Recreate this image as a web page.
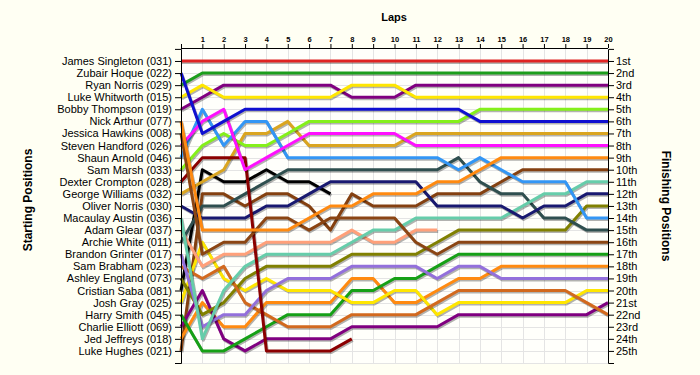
<!DOCTYPE html>
<html>
<head>
<meta charset="utf-8">
<script src="https://cdn.jsdelivr.net/npm/d3@7"></script>
<style>
  body { margin: 0; background: #fffff3; }
  svg text { font-family: "Liberation Sans", Arial, sans-serif; fill: #000; }
  .lap-axis text { font-size: 7.5px; font-weight: bold; }
  .pos-axis text { font-size: 11px; }
  .axis-title { font-size: 12px; font-weight: bold; }
</style>
</head>
<body>
<div id="chart"></div>
<script>
const lapCount = 20;

const drivers = [
  "James Singleton (031)", "Zubair Hoque (022)", "Ryan Norris (029)",
  "Luke Whitworth (015)", "Bobby Thompson (019)", "Nick Arthur (077)",
  "Jessica Hawkins (008)", "Steven Handford (026)", "Shaun Arnold (046)",
  "Sam Marsh (033)", "Dexter Crompton (028)", "George Williams (032)",
  "Oliver Norris (030)", "Macaulay Austin (036)", "Adam Glear (037)",
  "Archie White (011)", "Brandon Grinter (017)", "Sam Brabham (023)",
  "Ashley England (073)", "Cristian Saba (081)", "Josh Gray (025)",
  "Harry Smith (045)", "Charlie Elliott (069)", "Jed Jeffreys (018)",
  "Luke Hughes (021)",
];

const finishLabels = [
  "1st", "2nd", "3rd", "4th", "5th", "6th", "7th", "8th", "9th", "10th",
  "11th", "12th", "13th", "14th", "15th", "16th", "17th", "18th", "19th",
  "20th", "21st", "22nd", "23rd", "24th", "25th",
];

// position of each driver at lap 0, 1, 2 ... (shorter list = retired)
const positions = [
  [1, 1, 1, 1, 1, 1, 1, 1, 1, 1, 1, 1, 1, 1, 1, 1, 1, 1, 1, 1, 1],
  [2, 7, 6, 5, 5, 5, 5, 5, 5, 5, 5, 5, 5, 5, 6, 6, 6, 6, 6, 6, 6],
  [3, 2, 2, 2, 2, 2, 2, 2, 2, 2, 2, 2, 2, 2, 2, 2, 2, 2, 2, 2, 2],
  [4, 3, 4, 4, 4, 4, 4, 4, 3, 3, 3, 4, 4, 4, 4, 4, 4, 4, 4, 4, 4],
  [5, 4, 3, 3, 3, 3, 3, 3, 4, 4, 4, 3, 3, 3, 3, 3, 3, 3, 3, 3, 3],
  [6, 15, 15, 15, 15, 15, 14, 13, 13, 12, 12, 12, 11, 11, 10, 9, 9, 9, 9, 9, 9],
  [7, 17, 16, 16, 14, 14, 15, 14, 14, 14, 14, 16, 17, 16, 16, 16, 16, 16, 16, 16, 16],
  [8, 6, 5, 10, 9, 8, 7, 7, 7, 7, 7, 8, 8, 8, 8, 8, 8, 8, 8, 8, 8],
  [9, 5, 8, 6, 6, 9, 9, 9, 9, 9, 9, 9, 9, 10, 9, 10, 11, 11, 11, 14, 14],
  [10, 8, 7, 8, 8, 7, 6, 6, 6, 6, 6, 6, 6, 6, 5, 5, 5, 5, 5, 5, 5],
  [11, 9, 9, 9, 25, 25, 25, 25, 24],
  [12, 11, 10, 7, 7, 6, 8, 8, 8, 8, 8, 7, 7, 7, 7, 7, 7, 7, 7, 7, 7],
  [13, 14, 14, 14, 13, 13, 12, 11, 11, 11, 11, 11, 13, 13, 13, 13, 14, 13, 13, 12, 12],
  [14, 24, 20, 18, 17, 17, 17, 17, 16, 15, 15, 14, 14, 14, 14, 14, 13, 12, 12, 11, 11],
  [15, 18, 17, 17, 16, 16, 16, 16, 15, 16, 16, 15, 15],
  [16, 13, 13, 12, 11, 10, 10, 10, 10, 10, 10, 10, 10, 9, 11, 12, 12, 14, 14, 15, 15],
  [17, 23, 22, 22, 20, 19, 19, 19, 18, 18, 18, 18, 19, 18, 18, 19, 19, 19, 19, 19, 19],
  [18, 19, 18, 21, 22, 23, 23, 23, 22, 22, 22, 22, 21, 20, 20, 20, 20, 20, 20, 21, 22],
  [19, 22, 21, 19, 18, 18, 18, 18, 17, 17, 17, 17, 16, 15, 15, 15, 15, 15, 15, 13, 13],
  [20, 10, 11, 11, 10, 11, 11, 12],
  [21, 16, 19, 20, 19, 20, 20, 20, 21, 21, 20, 20, 22, 21, 21, 21, 21, 21, 21, 20, 20],
  [22, 25, 25, 24, 23, 22, 22, 22, 20, 20, 19, 19, 18, 17, 17, 17, 17, 17, 17, 17, 17],
  [23, 20, 24, 25, 24, 24, 24, 24, 23, 23, 23, 23, 23, 22, 22, 22, 22, 22, 22, 22, 21],
  [24, 21, 23, 23, 21, 21, 21, 21, 19, 19, 21, 21, 20, 19, 19, 18, 18, 18, 18, 18, 18],
  [25, 12, 12, 13, 12, 12, 13, 15, 12, 13, 13, 13, 12, 12, 12, 11, 10, 10, 10, 10, 10],
];

const lineColors = [
  "#e02424", "#1010d0", "#1c9e1c", "#ffe600", "#800080", "#ff8a10",
  "#8b4513", "#ff10ff", "#3396f5", "#84f01a", "#8b0000", "#daa520",
  "#191970", "#66cdaa", "#ffa07a", "#2f4f4f", "#9370db", "#d2691e",
  "#808000", "#000000", "#ffe600", "#16a016", "#800080", "#ff8a10",
  "#844010",
];

const width = 700;
const height = 375;
const margin = { top: 48, right: 92, bottom: 12, left: 181 };

const x = d3
  .scaleLinear()
  .domain([0, lapCount])
  .range([margin.left, width - margin.right]);
const y = d3
  .scaleLinear()
  .domain([0, drivers.length + 1])
  .range([margin.top + 0.9, height - margin.bottom]);

const svg = d3
  .select("#chart")
  .append("svg")
  .attr("width", width)
  .attr("height", height);

svg
  .append("rect")
  .attr("x", x(0))
  .attr("y", y(0))
  .attr("width", x(lapCount) - x(0))
  .attr("height", y(drivers.length + 1) - y(0))
  .attr("fill", "#fffffb");

// grid
const grid = svg.append("g").attr("stroke", "#e4e4e4").attr("stroke-width", 1);
grid
  .selectAll(".v")
  .data(d3.range(1, lapCount))
  .join("line")
  .attr("x1", (d) => Math.round(x(d)) + 0.5)
  .attr("x2", (d) => Math.round(x(d)) + 0.5)
  .attr("y1", y(0))
  .attr("y2", y(drivers.length + 1));
grid
  .selectAll(".h")
  .data(d3.range(1, drivers.length + 2))
  .join("line")
  .attr("x1", x(0))
  .attr("x2", x(lapCount))
  .attr("y1", (d) => Math.round(y(d)) + 0.5)
  .attr("y2", (d) => Math.round(y(d)) + 0.5);

// lines
const line = d3
  .line()
  .x((d, i) => x(i))
  .y((d) => y(d));

const series = svg
  .append("g")
  .attr("fill", "none")
  .attr("stroke-width", 3)
  .attr("stroke-linejoin", "round")
  .selectAll("g")
  .data(positions.map((p, i) => ({ p, i })).reverse())
  .join("g");
series
  .append("path")
  .attr("transform", "translate(1,1.5)")
  .attr("stroke", "#000")
  .attr("stroke-opacity", 0.3)
  .attr("d", (d) => line(d.p));
series
  .append("path")
  .attr("stroke", (d) => lineColors[d.i])
  .attr("d", (d) => line(d.p));

// axes
svg
  .append("g")
  .attr("class", "lap-axis")
  .attr("transform", `translate(0,${margin.top})`)
  .call(
    d3
      .axisTop(x)
      .tickValues(d3.range(0, lapCount + 1))
      .tickFormat((d) => (d ? d : ""))
      .tickSize(4)
      .tickPadding(2)
  )
  .call((g) => g.select(".domain").attr("d", `M${x(0)},0.5H${x(lapCount)}`));

svg
  .append("g")
  .attr("class", "pos-axis")
  .attr("transform", `translate(${x(0)},0)`)
  .call(
    d3
      .axisLeft(y)
      .tickValues(d3.range(1, drivers.length + 1))
      .tickFormat((d) => drivers[d - 1])
      .tickSize(6)
      .tickSizeOuter(6)
      .tickPadding(3)
  );

svg
  .append("g")
  .attr("class", "pos-axis")
  .attr("transform", `translate(${x(lapCount)},0)`)
  .call(
    d3
      .axisRight(y)
      .tickValues(d3.range(1, drivers.length + 1))
      .tickFormat((d) => finishLabels[d - 1])
      .tickSize(6)
      .tickSizeOuter(6)
      .tickPadding(2)
  );

svg.selectAll(".tick line, .domain").attr("stroke", "#000");

// titles
svg
  .append("text")
  .attr("class", "axis-title")
  .style("font-size", "11px")
  .attr("x", 394)
  .attr("y", 21)
  .attr("text-anchor", "middle")
  .text("Laps");
svg
  .append("text")
  .attr("class", "axis-title")
  .attr("transform", "translate(32,200) rotate(-90)")
  .attr("text-anchor", "middle")
  .text("Starting Positions");
svg
  .append("text")
  .attr("class", "axis-title")
  .attr("transform", "translate(662,206) rotate(90)")
  .attr("text-anchor", "middle")
  .text("Finishing Positions");
</script>
</body>
</html>
